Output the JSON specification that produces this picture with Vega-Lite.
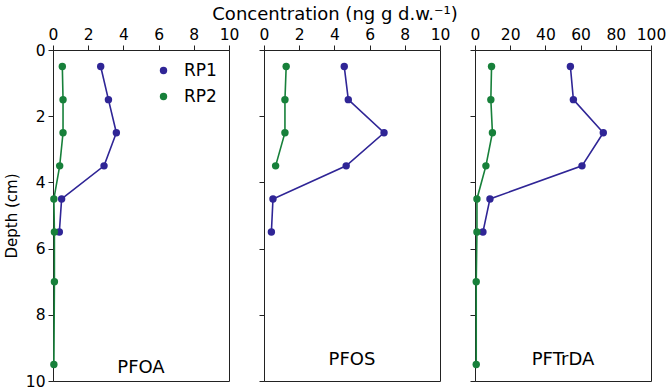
{
  "$schema": "https://vega.github.io/schema/vega-lite/v6.json",
  "padding": {"left": 3, "top": 5, "right": 12, "bottom": 5},
  "bounds": "flush",
  "spacing": 35,
  "title": {"text": "Concentration (ng g d.w.⁻¹)", "fontSize": 18, "fontWeight": "normal", "font": "DejaVu Sans", "anchor": "middle", "frame": "bounds", "color": "black", "offset": 3},
  "datasets": {
    "d": [
      {"compound": "PFOA", "site": "RP1", "depth": 0.5, "conc": 2.71},
      {"compound": "PFOA", "site": "RP1", "depth": 1.5, "conc": 3.15},
      {"compound": "PFOA", "site": "RP1", "depth": 2.5, "conc": 3.6},
      {"compound": "PFOA", "site": "RP1", "depth": 3.5, "conc": 2.9},
      {"compound": "PFOA", "site": "RP1", "depth": 4.5, "conc": 0.49},
      {"compound": "PFOA", "site": "RP1", "depth": 5.5, "conc": 0.36},
      {"compound": "PFOA", "site": "RP2", "depth": 0.5, "conc": 0.53},
      {"compound": "PFOA", "site": "RP2", "depth": 1.5, "conc": 0.57},
      {"compound": "PFOA", "site": "RP2", "depth": 2.5, "conc": 0.57},
      {"compound": "PFOA", "site": "RP2", "depth": 3.5, "conc": 0.38},
      {"compound": "PFOA", "site": "RP2", "depth": 4.5, "conc": 0.05},
      {"compound": "PFOA", "site": "RP2", "depth": 5.5, "conc": 0.08},
      {"compound": "PFOA", "site": "RP2", "depth": 7.0, "conc": 0.08},
      {"compound": "PFOA", "site": "RP2", "depth": 9.5, "conc": 0.05},
      {"compound": "PFOS", "site": "RP1", "depth": 0.5, "conc": 4.56},
      {"compound": "PFOS", "site": "RP1", "depth": 1.5, "conc": 4.79},
      {"compound": "PFOS", "site": "RP1", "depth": 2.5, "conc": 6.82},
      {"compound": "PFOS", "site": "RP1", "depth": 3.5, "conc": 4.67},
      {"compound": "PFOS", "site": "RP1", "depth": 4.5, "conc": 0.51},
      {"compound": "PFOS", "site": "RP1", "depth": 5.5, "conc": 0.42},
      {"compound": "PFOS", "site": "RP2", "depth": 0.5, "conc": 1.26},
      {"compound": "PFOS", "site": "RP2", "depth": 1.5, "conc": 1.19},
      {"compound": "PFOS", "site": "RP2", "depth": 2.5, "conc": 1.19},
      {"compound": "PFOS", "site": "RP2", "depth": 3.5, "conc": 0.66},
      {"compound": "PFTrDA", "site": "RP1", "depth": 0.5, "conc": 54.2},
      {"compound": "PFTrDA", "site": "RP1", "depth": 1.5, "conc": 55.9},
      {"compound": "PFTrDA", "site": "RP1", "depth": 2.5, "conc": 72.9},
      {"compound": "PFTrDA", "site": "RP1", "depth": 3.5, "conc": 60.8},
      {"compound": "PFTrDA", "site": "RP1", "depth": 4.5, "conc": 8.5},
      {"compound": "PFTrDA", "site": "RP1", "depth": 5.5, "conc": 4.5},
      {"compound": "PFTrDA", "site": "RP2", "depth": 0.5, "conc": 9.4},
      {"compound": "PFTrDA", "site": "RP2", "depth": 1.5, "conc": 9.0},
      {"compound": "PFTrDA", "site": "RP2", "depth": 2.5, "conc": 9.9},
      {"compound": "PFTrDA", "site": "RP2", "depth": 3.5, "conc": 6.2},
      {"compound": "PFTrDA", "site": "RP2", "depth": 4.5, "conc": 1.1},
      {"compound": "PFTrDA", "site": "RP2", "depth": 5.5, "conc": 1.1},
      {"compound": "PFTrDA", "site": "RP2", "depth": 7.0, "conc": 0.7},
      {"compound": "PFTrDA", "site": "RP2", "depth": 9.5, "conc": 0.7}
    ]
  },
  "data": {"name": "d"},
  "resolve": {"legend": {"color": "independent"}},
  "config": {
    "font": "DejaVu Sans",
    "view": {"stroke": "#222", "strokeWidth": 1},
    "axis": {"grid": false, "domainColor": "#222", "tickColor": "#222", "labelColor": "black", "labelFontSize": 15.5, "titleFontSize": 15, "titleFontWeight": "normal", "titleColor": "black", "tickSize": 5, "labelPadding": 3, "labelFont": "DejaVu Sans", "titleFont": "DejaVu Sans", "labelOverlap": false, "labelBound": false, "labelFlush": false},
    "legend": {"labelFont": "DejaVu Sans"},
    "title": {"font": "DejaVu Sans", "color": "black"}
  },
  "hconcat": [
    {
      "width": 176, "height": 331,
      "title": {"text": "PFOA", "orient": "bottom", "offset": -31, "fontSize": 18, "fontWeight": "normal"},
      "transform": [{"filter": "datum.compound === 'PFOA'"}],
      "encoding": {
        "x": {"field": "conc", "type": "quantitative", "scale": {"domain": [0, 10], "nice": false}, "axis": {"orient": "top", "values": [0, 2, 4, 6, 8, 10], "title": null}},
        "y": {"field": "depth", "type": "quantitative", "scale": {"domain": [0, 10], "reverse": true, "nice": false}, "axis": {"values": [0, 2, 4, 6, 8, 10], "title": "Depth (cm)", "titlePadding": 6}},
        "color": {"field": "site", "type": "nominal", "scale": {"domain": ["RP1", "RP2"], "range": ["#2f2596", "#17803a"]},
          "legend": {"title": null, "orient": "top-right", "offset": 12, "symbolType": "circle", "symbolSize": 55, "symbolStrokeWidth": 0, "labelFontSize": 17, "rowPadding": 8, "labelOffset": 12}}
      },
      "layer": [
        {"mark": {"type": "line", "strokeWidth": 1.6}, "encoding": {"order": {"field": "depth", "type": "quantitative"}}},
        {"mark": {"type": "circle", "size": 55, "opacity": 1}}
      ]
    },
    {
      "width": 176, "height": 331,
      "title": {"text": "PFOS", "orient": "bottom", "offset": -31, "fontSize": 18, "fontWeight": "normal"},
      "transform": [{"filter": "datum.compound === 'PFOS'"}],
      "encoding": {
        "x": {"field": "conc", "type": "quantitative", "scale": {"domain": [0, 10], "nice": false}, "axis": {"orient": "top", "values": [0, 2, 4, 6, 8, 10], "title": null}},
        "y": {"field": "depth", "type": "quantitative", "scale": {"domain": [0, 10], "reverse": true, "nice": false}, "axis": {"values": [0, 2, 4, 6, 8, 10], "title": null, "labels": false}},
        "color": {"field": "site", "type": "nominal", "scale": {"domain": ["RP1", "RP2"], "range": ["#2f2596", "#17803a"]}, "legend": null}
      },
      "layer": [
        {"mark": {"type": "line", "strokeWidth": 1.6}, "encoding": {"order": {"field": "depth", "type": "quantitative"}}},
        {"mark": {"type": "circle", "size": 55, "opacity": 1}}
      ]
    },
    {
      "width": 176, "height": 331,
      "title": {"text": "PFTrDA", "orient": "bottom", "offset": -31, "fontSize": 18, "fontWeight": "normal"},
      "transform": [{"filter": "datum.compound === 'PFTrDA'"}],
      "encoding": {
        "x": {"field": "conc", "type": "quantitative", "scale": {"domain": [0, 100], "nice": false}, "axis": {"orient": "top", "values": [0, 20, 40, 60, 80, 100], "title": null}},
        "y": {"field": "depth", "type": "quantitative", "scale": {"domain": [0, 10], "reverse": true, "nice": false}, "axis": {"values": [0, 2, 4, 6, 8, 10], "title": null, "labels": false}},
        "color": {"field": "site", "type": "nominal", "scale": {"domain": ["RP1", "RP2"], "range": ["#2f2596", "#17803a"]}, "legend": null}
      },
      "layer": [
        {"mark": {"type": "line", "strokeWidth": 1.6}, "encoding": {"order": {"field": "depth", "type": "quantitative"}}},
        {"mark": {"type": "circle", "size": 55, "opacity": 1}}
      ]
    }
  ]
}
